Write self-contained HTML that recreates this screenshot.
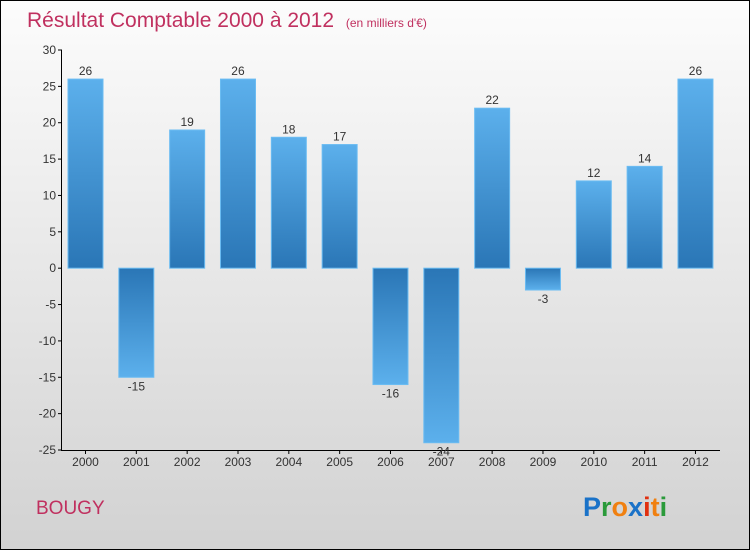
<!DOCTYPE html>
<html><head><meta charset="utf-8"><style>
body{margin:0;width:750px;height:550px;overflow:hidden}
#wrap{position:absolute;left:0;top:0;width:748px;height:548px;border:1px solid #000;background:linear-gradient(#fcfcfc,#d2d2d2)}
svg{position:absolute;left:0;top:0}
text{font-family:"Liberation Sans",sans-serif}
</style></head><body>
<div id="wrap"></div>
<svg id="c" width="750" height="550">
<defs>
<linearGradient id="gp" x1="0" y1="0" x2="0" y2="1"><stop offset="0" stop-color="#5cb0ec"/><stop offset="1" stop-color="#2a76b6"/></linearGradient>
<linearGradient id="gn" x1="0" y1="0" x2="0" y2="1"><stop offset="0" stop-color="#2a76b6"/><stop offset="1" stop-color="#5cb0ec"/></linearGradient>
</defs>
<text x="27" y="27" font-size="21" fill="#c0305f">Résultat Comptable 2000 à 2012 <tspan font-size="12" dx="6">(en milliers d'€)</tspan></text>
<text x="36" y="514" font-size="19" fill="#c0305f">BOUGY</text>
<g font-size="27" font-weight="bold" font-family="Liberation Sans,sans-serif">
<text x="583" y="516" fill="#1a72c8">P<tspan fill="#2a9a3a">r</tspan><tspan fill="#f08010">o</tspan><tspan fill="#1a72c8">x</tspan><tspan fill="#e03010">i</tspan><tspan fill="#f08010">t</tspan><tspan fill="#2a9a3a">i</tspan></text>
</g>
<g id="axes"></g><g id="bars"></g>
</svg>
<script>
const categories=["2000","2001","2002","2003","2004","2005","2006","2007","2008","2009","2010","2011","2012"];
const values=[26,-15,19,26,18,17,-16,-24,22,-3,12,14,26];
const yTicks=[30,25,20,15,10,5,0,-5,-10,-15,-20,-25];
const NS="http://www.w3.org/2000/svg";
const y=v=>50+(30-v)*400/55;
const x=i=>85.5+i*50.83;
function mk(tag,attrs,parent){const e=document.createElementNS(NS,tag);for(const k in attrs)e.setAttribute(k,attrs[k]);parent.appendChild(e);return e;}
const ax=document.getElementById('axes'),bg=document.getElementById('bars');
let l=mk('line',{x1:61.5,y1:50,x2:61.5,y2:450,stroke:'#000'},ax);


l=mk('line',{x1:61,y1:450.5,x2:720,y2:450.5,stroke:'#000'},ax);


yTicks.forEach(t=>{
  mk('line',{x1:58,x2:62,y1:y(t),y2:y(t),stroke:'#000'},ax);
  const tx=mk('text',{x:56,y:y(t)+4,'font-size':12,'text-anchor':'end',fill:'#333'},ax);
  tx.textContent=t;
  
  
});
categories.forEach((c,i)=>{
  mk('line',{x1:x(i),x2:x(i),y1:450,y2:454,stroke:'#000'},ax);
  const tx=mk('text',{x:x(i),y:466,'font-size':12,'text-anchor':'middle',fill:'#333'},ax);
  tx.textContent=c;
  
  
  const v=values[i],top=Math.min(y(v),y(0)),h=Math.abs(y(v)-y(0));
  const r=mk('rect',{x:x(i)-17.5,y:top,width:35,height:h,fill:v>=0?'url(#gp)':'url(#gn)',stroke:'#6bbcf2','stroke-width':1},bg);
  
  
  const lb=mk('text',{x:x(i),y:v>=0?y(v)-4:y(v)+13,'font-size':12,'text-anchor':'middle',fill:'#333'},bg);
  lb.textContent=v;
  
  
});
</script>
</body></html>
